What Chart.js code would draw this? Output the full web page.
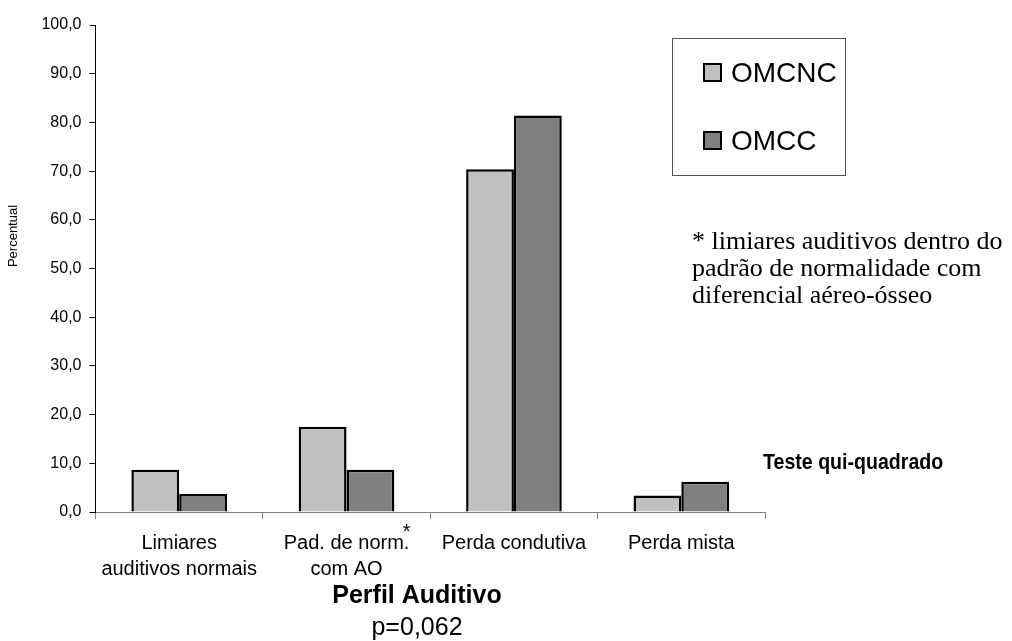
<!DOCTYPE html>
<html>
<head>
<meta charset="utf-8">
<script src="https://cdn.jsdelivr.net/npm/chart.js@4"></script>
<style>
  html, body { margin: 0; padding: 0; background: #fff; }
  canvas { display: block; }
</style>
</head>
<body>
<canvas id="myChart" width="1012" height="641"></canvas>
<script>
const categories = [
    ['Limiares', 'auditivos normais'],
    ['Pad. de norm.', 'com AO'],
    'Perda condutiva',
    'Perda mista',
];
const seriesNames = ['OMCNC', 'OMCC'];
const omcnc = [8.7, 17.5, 70.4, 3.4];
const omcc = [3.7, 8.7, 81.4, 6.2];
const yTickLabels = ['0,0', '10,0', '20,0', '30,0', '40,0', '50,0', '60,0', '70,0', '80,0', '90,0', '100,0'];

const yTitle = 'Percentual';
const xTitle = 'Perfil Auditivo';
const pValue = 'p=0,062';
const testName = 'Teste qui-quadrado';
const footnote = ['* limiares auditivos dentro do', 'padrão de normalidade com', 'diferencial aéreo-ósseo'];

const SANS = "'Liberation Sans', Arial, sans-serif";
const SERIF = "'Liberation Serif', 'Times New Roman', serif";

// everything that is not a bar: titles, legend box, footnote
const extras = {
    id: 'extras',
    afterDraw(chart) {
        const ctx = chart.ctx;
        const x = chart.scales.x;
        ctx.save();
        ctx.fillStyle = '#000';

        // y title
        ctx.save();
        ctx.translate(13, 236);
        ctx.rotate(-Math.PI / 2);
        ctx.font = '13px ' + SANS;
        ctx.textAlign = 'center';
        ctx.textBaseline = 'middle';
        ctx.fillText(yTitle, 0, 0);
        ctx.restore();

        // asterisk next to the second category
        ctx.font = '20px ' + SANS;
        ctx.textAlign = 'center';
        ctx.textBaseline = 'alphabetic';
        ctx.fillText('*', x.getPixelForValue(1) + 60, 538);

        // x title + p value
        ctx.font = 'bold 25px ' + SANS;
        ctx.fillText(xTitle, 417, 603);
        ctx.font = '25px ' + SANS;
        ctx.fillText(pValue, 417, 635);

        // legend
        ctx.strokeStyle = '#555';
        ctx.lineWidth = 1;
        ctx.strokeRect(672.5, 38.5, 173, 137);
        chart.data.datasets.forEach((ds, i) => {
            const top = 64 + i * 68;
            ctx.fillStyle = ds.backgroundColor;
            ctx.fillRect(704, top, 17, 17);
            ctx.strokeStyle = '#000';
            ctx.lineWidth = 2;
            ctx.strokeRect(704, top, 17, 17);
            ctx.fillStyle = '#000';
            ctx.font = '28px ' + SANS;
            ctx.textAlign = 'left';
            ctx.fillText(ds.label, 731, top + 18);
        });

        // footnote
        ctx.font = '26px ' + SERIF;
        ctx.textAlign = 'left';
        footnote.forEach((line, i) => ctx.fillText(line, 692, 249 + i * 27));

        // test name (narrow bold)
        ctx.save();
        ctx.translate(763, 469);
        ctx.scale(0.89, 1);
        ctx.font = 'bold 22px ' + SANS;
        ctx.fillText(testName, 0, 0);
        ctx.restore();

        ctx.restore();
    },
};

const ctx = document.getElementById('myChart').getContext('2d');

new Chart(ctx, {
    type: 'bar',
    data: {
        labels: categories,
        datasets: [
            {
                label: seriesNames[0],
                data: omcnc,
                backgroundColor: '#C0C0C0',
                borderColor: '#000',
                borderWidth: 2.5,
            },
            {
                label: seriesNames[1],
                data: omcc,
                backgroundColor: '#808080',
                borderColor: '#000',
                borderWidth: 2.5,
            },
        ],
    },
    options: {
        responsive: false,
        animation: false,
        events: [],
        layout: {
            padding: { left: 0, right: 247, top: 25, bottom: 0 },
        },
        datasets: {
            bar: {
                categoryPercentage: 2 / 3.5,
                barPercentage: 1,
            },
        },
        plugins: {
            legend: { display: false },
            title: { display: false },
            tooltip: { enabled: false },
        },
        scales: {
            x: {
                afterFit: (scale) => { scale.height = 129; },
                grid: {
                    drawOnChartArea: false,
                    offset: true,
                    tickLength: 7,
                    color: '#808080',
                },
                border: { color: '#808080', width: 1 },
                ticks: {
                    color: '#000',
                    font: { family: SANS, size: 20, lineHeight: 1.3 },
                    padding: 11,
                    maxRotation: 0,
                    autoSkip: false,
                },
            },
            y: {
                min: 0,
                max: 100,
                afterFit: (scale) => { scale.width = 95.5; },
                grid: {
                    drawOnChartArea: false,
                    tickLength: 6,
                    color: '#000',
                },
                border: { color: '#000', width: 1 },
                ticks: {
                    stepSize: 10,
                    color: '#000',
                    font: { family: SANS, size: 16 },
                    padding: 8,
                    callback: (value, index) => yTickLabels[index],
                },
            },
        },
    },
    plugins: [extras],
});
</script>
</body>
</html>
